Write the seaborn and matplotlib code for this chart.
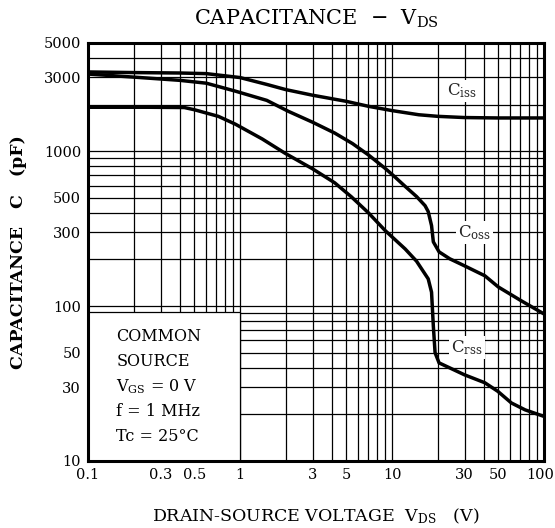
import matplotlib
matplotlib.use("Agg")
import matplotlib.pyplot as plt
import matplotlib.ticker as mticker
from matplotlib.patches import Rectangle
from matplotlib.transforms import ScaledTranslation
import numpy as np
import pandas as pd
import seaborn as sns

sns.set_theme(style="white")
plt.rcParams["font.family"] = ["DejaVu Serif"]
plt.rcParams["mathtext.fontset"] = "dejavuserif"

# Curves (V_DS in volts, capacitance in pF).
ciss_v = [0.1, 0.2, 0.4, 0.6, 1.0, 1.5, 2.0, 3.0, 5.0, 7.0, 10, 15, 20, 30, 50, 70, 100]
ciss_c = [3250, 3220, 3200, 3170, 2990, 2700, 2500, 2300, 2100, 1950, 1830, 1720, 1680, 1650, 1640, 1640, 1640]

coss_v = [0.1, 0.2, 0.4, 0.6, 0.93, 1.5, 2.08, 3.0, 4.2, 5.5, 7.0, 9.0, 10.4, 12.2, 14.5, 16.5,
          17.3, 18.2, 18.7, 20.4, 24, 30, 40.8, 50, 70, 100]
coss_c = [3150, 3010, 2870, 2750, 2445, 2130, 1810, 1540, 1310, 1120, 946, 776, 685, 593, 510, 445,
          408, 331, 260, 224, 202, 182, 157, 133, 109, 89]

crss_v = [0.1, 0.25, 0.43, 0.5, 0.72, 0.93, 1.4, 1.98, 3.0, 4.2, 5.4, 7.0, 9.0, 12.2, 14.5, 17.3,
          18.2, 18.7, 19.2, 20.4, 30, 40.8, 49.6, 61, 75, 100]
crss_c = [1923, 1923, 1915, 1854, 1680, 1497, 1200, 970, 770, 625, 508, 400, 308, 234, 195, 150,
          123, 74.5, 50, 43, 36, 32, 28.2, 23.7, 21.4, 19.4]

x_ticks = [0.1, 0.3, 0.5, 1, 3, 5, 10, 30, 50, 100]
x_labels = ["0.1", "0.3", "0.5", "1", "3", "5", "10", "30", "50", "100"]
y_ticks = [10, 30, 50, 100, 300, 500, 1000, 3000, 5000]
y_labels = ["10", "30", "50", "100", "300", "500", "1000", "3000", "5000"]

data = pd.concat([
    pd.DataFrame({"Vds": ciss_v, "C": ciss_c, "curve": "Ciss"}),
    pd.DataFrame({"Vds": coss_v, "C": coss_c, "curve": "Coss"}),
    pd.DataFrame({"Vds": crss_v, "C": crss_c, "curve": "Crss"}),
])

fig = plt.figure(figsize=(5.55, 5.28), dpi=100)
ax = fig.add_axes([0.1586, 0.1269, 0.8216, 0.7917])
ax.set_xscale("log")
ax.set_yscale("log")
ax.set_xlim(0.1, 100)
ax.set_ylim(10, 5000)

# datasheet style grid: a line on every 1..9 multiple
ax.xaxis.set_minor_locator(mticker.LogLocator(base=10, subs=np.arange(2, 10)))
ax.yaxis.set_minor_locator(mticker.LogLocator(base=10, subs=np.arange(2, 10)))
ax.grid(which="both", color="black", linewidth=0.9)
ax.set_axisbelow(True)

sns.lineplot(
    x="Vds", y="C", hue="curve", data=data,
    palette=["black", "black", "black"], sort=False, estimator=None,
    linewidth=2.5, legend=False, ax=ax, zorder=4
)

# white condition box in the lower left corner
ax.add_patch(Rectangle((0.1, 10), 0.9, 81, facecolor="white",
                       edgecolor="black", linewidth=0.9, zorder=3))
box_lines = ["COMMON", "SOURCE", "V$_{\\rm GS}$ = 0 V", "f = 1 MHz", "Tc = 25°C"]
for i, line in enumerate(box_lines):
    ax.text(0.062, 0.299 - i * 0.06, line, transform=ax.transAxes,
            fontsize=11.5, color="black", va="center", ha="left", zorder=5)

# curve names
lab_box = dict(facecolor="white", edgecolor="none", pad=1.5)
ax.text(29, 2450, "C$_{\\rm iss}$", fontsize=12, ha="center", va="center", bbox=lab_box, zorder=5)
ax.text(35, 300, "C$_{\\rm oss}$", fontsize=12, ha="center", va="center", bbox=lab_box, zorder=5)
ax.text(31, 54, "C$_{\\rm rss}$", fontsize=12, ha="center", va="center", bbox=lab_box, zorder=5)

ax.set_xticks(x_ticks)
ax.set_xticklabels(x_labels)
ax.set_yticks(y_ticks)
ax.set_yticklabels(y_labels)
ax.xaxis.set_minor_formatter(mticker.NullFormatter())
ax.yaxis.set_minor_formatter(mticker.NullFormatter())
ax.tick_params(which="both", length=0, labelsize=10.5, colors="black", pad=5)

# the last x label sits a little to the left so it stays on the page
last = ax.get_xticklabels()[-1]
last.set_transform(last.get_transform() + ScaledTranslation(-4 / 100, 0, fig.dpi_scale_trans))

for side in ax.spines.values():
    side.set_color("black")
    side.set_linewidth(2.2)
    side.set_zorder(6)

ax.set_xlabel("DRAIN-SOURCE VOLTAGE  V$_{\\rm DS}$   (V)", fontsize=12.5, color="black", labelpad=18)
ax.set_ylabel("CAPACITANCE   C   (pF)", fontsize=12.5, fontweight="bold", color="black", labelpad=12)
ax.set_title("CAPACITANCE  −  V$_{\\rm DS}$", fontsize=15, color="black", pad=13)

fig.savefig("out.png", dpi=100)
